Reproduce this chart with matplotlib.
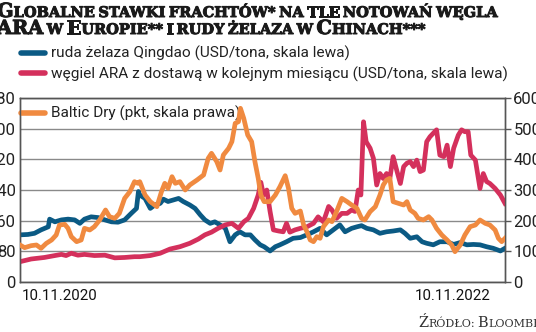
import numpy as np
import pandas as pd
import matplotlib
matplotlib.use("Agg")
import matplotlib.pyplot as plt
import matplotlib.transforms as mtransforms
import matplotlib.patheffects as pe
from matplotlib.lines import Line2D

plt.rcParams['font.family'] = 'Roboto'

start = pd.Timestamp('2020-11-10')

# iron ore Qingdao, USD/t (left axis) - days since 10.11.2020
ore_days = [0, 12, 22, 32, 43, 45, 53, 63, 73, 83, 91, 98, 108, 119, 129, 139, 149, 159, 169, 177,
            180, 182, 190, 198, 205, 213, 218, 225, 233, 241, 248, 258, 266, 274, 281, 289, 296, 304, 312, 319,
            327, 334, 342, 350, 357, 365, 371, 380, 388, 395, 405, 415, 426, 436, 446, 456, 466, 476, 486, 494,
            504, 512, 519, 527, 537, 547, 557, 567, 578, 585, 593, 603, 611, 618, 628, 638, 649, 659, 669, 679,
            689, 699, 709, 719, 730, 737]
ore = [123, 124, 127, 136, 144, 164, 157, 162, 164, 162, 153, 164, 170, 168, 162, 157, 156, 162, 179, 192,
       236, 227, 218, 192, 201, 205, 216, 210, 214, 218, 210, 201, 192, 175, 162, 153, 157, 149, 140, 105,
       123, 131, 123, 123, 110, 97, 92, 81, 92, 97, 105, 114, 116, 123, 131, 140, 123, 136, 149, 131,
       140, 144, 147, 140, 136, 127, 131, 133, 136, 127, 114, 118, 105, 101, 97, 105, 105, 98, 103, 97,
       98, 97, 92, 88, 81, 88]

# coal ARA front month, USD/t (left axis)
coal_days = [0, 17, 37, 53, 63, 70, 78, 88, 98, 113, 129, 144, 159, 174, 182, 198, 213, 228, 243, 258,
             271, 281, 291, 301, 312, 322, 332, 340, 347, 355, 362, 366, 370, 375, 380, 385, 393, 400, 405, 410,
             418, 426, 436, 446, 453, 461, 469, 474, 481, 489, 497, 504, 509, 514, 518, 522, 526, 532, 537, 542,
             547, 552, 557, 562, 567, 573, 578, 583, 588, 593, 598, 603, 608, 613, 618, 623, 628, 633, 638, 644,
             649, 654, 659, 666, 671, 676, 681, 685, 692, 699, 704, 709, 714, 722, 730, 737]
coal = [53, 60, 64, 69, 72, 69, 75, 70, 72, 69, 70, 63, 64, 66, 66, 69, 75, 86, 92, 101,
        112, 123, 130, 140, 149, 153, 140, 157, 166, 192, 227, 260, 227, 240, 184, 136, 133, 131, 153, 130,
        136, 140, 144, 153, 170, 157, 197, 188, 166, 179, 179, 188, 184, 240, 227, 418, 366, 349, 323, 253,
        283, 270, 283, 270, 327, 288, 257, 301, 310, 314, 301, 318, 288, 292, 366, 379, 388, 397, 331, 327,
        357, 301, 349, 383, 397, 392, 392, 331, 318, 244, 283, 262, 257, 244, 227, 205]

# Baltic Dry index, points (right axis)
bdi_days = [0, 7, 17, 25, 32, 40, 48, 55, 60, 68, 73, 78, 86, 93, 98, 106, 113, 121, 130, 136,
            144, 151, 159, 167, 174, 179, 182, 190, 198, 208, 215, 220, 225, 231, 236, 243, 251, 258, 269, 279,
            286, 291, 299, 304, 309, 317, 322, 327, 332, 335, 340, 346, 352, 357, 362, 366, 371, 380, 388, 395,
            403, 408, 413, 418, 426, 431, 436, 441, 446, 451, 456, 461, 469, 474, 481, 489, 497, 504, 512, 519,
            524, 532, 540, 547, 552, 557, 562, 567, 575, 583, 588, 593, 600, 605, 613, 621, 626, 633, 641, 649,
            656, 661, 669, 676, 684, 692, 699, 707, 714, 722, 727, 732, 737]
bdi = [1207, 1120, 1185, 1207, 1098, 1261, 1370, 1533, 1859, 1880, 1750, 1478, 1315, 1370, 1750, 1696, 1804, 2022, 2348, 2130,
       2076, 2239, 2728, 2946, 3272, 3218, 3272, 2837, 2620, 2457, 2946, 3218, 3055, 3435, 3218, 3272, 3000, 3163, 3326, 3490,
       4033, 4196, 3924, 3652, 4142, 4359, 4576, 5174, 5228, 5664, 5337, 4794, 4576, 3924, 3380, 2837, 2620, 2620, 2837, 3109,
       3467, 3055, 2402, 2239, 2315, 1859, 1641, 1370, 1315, 1478, 1424, 1804, 2022, 1967, 2294, 2728, 2620, 2511, 2402, 2076,
       2022, 2294, 2457, 2837, 3163, 3326, 3380, 2620, 2565, 2511, 2620, 2348, 2239, 2076, 2022, 2130, 2022, 1750, 1533, 1370,
       1207, 989, 1207, 1533, 1804, 1859, 2022, 1913, 1859, 1696, 1424, 1315, 1424]

labels = ['ruda żelaza Qingdao (USD/tona, skala lewa)',
          'węgiel ARA z dostawą w kolejnym miesiącu (USD/tona, skala lewa)',
          'Baltic Dry (pkt, skala prawa)']
colors = ['#0b5a84', '#d4305c', '#f08a40']
left_ticks = [0, 80, 160, 240, 320, 400, 480]
right_ticks = [0, 1000, 2000, 3000, 4000, 5000, 6000]
x_ticks = ['2020-11-10', '2022-11-10']
x_ticklabels = ['10.11.2020', '10.11.2022']

def to_dates(days):
    return start + pd.to_timedelta(days, unit='D')

W, H = 536, 332
fig = plt.figure(figsize=(W / 100, H / 100), dpi=100)
ax = fig.add_axes([20 / W, 1 - 282 / H, 485 / W, 184 / H])
ax2 = ax.twinx()

lw = 3.4
ax.plot(to_dates(ore_days), ore, color=colors[0], lw=lw, solid_joinstyle='round', zorder=3)
ax.plot(to_dates(coal_days), coal, color=colors[1], lw=lw, solid_joinstyle='round', zorder=4)
ax2.plot(to_dates(bdi_days), bdi, color=colors[2], lw=lw, solid_joinstyle='round', zorder=3)

ax.set_xlim(start, start + pd.Timedelta(days=737))
ax.set_ylim(0, 480)
ax2.set_ylim(0, 6000)
ax.set_yticks(left_ticks)
ax2.set_yticks(right_ticks)
ax.yaxis.grid(True, color='#8a8a8a', lw=1.0)
ax.set_axisbelow(True)

for a in (ax, ax2):
    for s in a.spines.values():
        s.set_color('#555555')
        s.set_linewidth(1.0)

ax.tick_params(axis='y', length=0, pad=3, labelsize=12, labelcolor='#222222')
ax2.tick_params(axis='y', length=4, width=1, color='#555555', pad=2, labelsize=12, labelcolor='#222222')

ax.set_xticks(pd.to_datetime(x_ticks))
ax.set_xticklabels(x_ticklabels, fontsize=10.8, color='#111111')
ax.tick_params(axis='x', length=0, pad=5)
xl = ax.get_xticklabels()
xl[0].set_ha('left')
xl[1].set_ha('right')
xl[0].set_transform(xl[0].get_transform() + mtransforms.ScaledTranslation(2 / 100, 0, fig.dpi_scale_trans))
xl[1].set_transform(xl[1].get_transform() + mtransforms.ScaledTranslation(-10 / 100, 0, fig.dpi_scale_trans))

# legend
handles = [Line2D([], [], color=c, lw=4, solid_capstyle='round') for c in colors]
fig.legend(handles[:2], labels[:2], loc='upper left', bbox_to_anchor=(21 / W, 1 - 46 / H),
           frameon=False, fontsize=11.1, handlelength=1.55, handletextpad=0.4,
           labelspacing=0.35, borderaxespad=0, borderpad=0, labelcolor='#222222')
ax.legend(handles[2:], labels[2:], loc='upper left', bbox_to_anchor=(21 / W, 1 - 106 / H),
          bbox_transform=fig.transFigure, frameon=False, fontsize=11.1, handlelength=1.55,
          handletextpad=0.4, borderaxespad=0, borderpad=0, labelcolor='#222222')

renderer = fig.canvas.get_renderer()

def small_caps(x_px, base_px, s, big, small, **kw):
    x = x_px
    runs = []
    for ch in s:
        size = big if ch.isupper() else small
        if runs and runs[-1][1] == size and ch != ' ' and runs[-1][0][-1] != ' ':
            runs[-1][0] += ch.upper()
        else:
            runs.append([ch.upper(), size])
    for txt, size in runs:
        if txt == ' ':
            x += size * 0.32
            continue
        t = fig.text(x / W, 1 - base_px / H, txt, fontsize=size, va='baseline', ha='left', **kw)
        x = t.get_window_extent(renderer).x1

title_kw = dict(family='DejaVu Serif', weight='bold', color='#1a1a1a',
                path_effects=[pe.withStroke(linewidth=0.7, foreground='#1a1a1a')])
small_caps(-3, 17, 'Globalne stawki frachtów* na tle notowań węgla', 14, 10.5, **title_kw)
small_caps(-3, 34, 'ARA w Europie** i rudy żelaza w Chinach***', 14, 10.5, **title_kw)
small_caps(418, 327, 'Źródło: Bloomberg', 10.5, 8, family='DejaVu Serif', color='#333333')

fig.savefig('out.png', dpi=100)
